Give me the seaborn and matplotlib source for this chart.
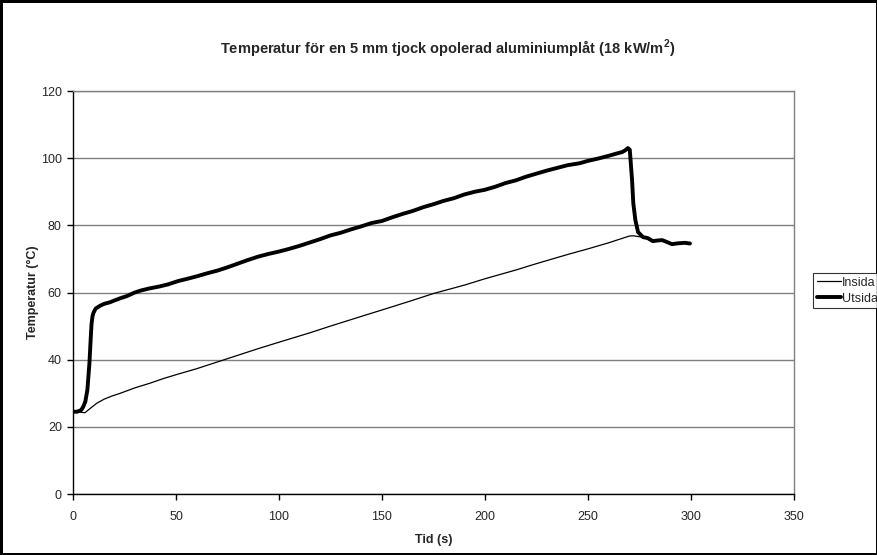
import matplotlib
matplotlib.use("Agg")
import matplotlib.pyplot as plt
import seaborn as sns
import pandas as pd

# ---- data ----
ut_t = [0, 2, 4, 5, 6, 7, 8, 8.5, 9, 9.5, 10, 11, 13, 15, 18, 20, 23, 26, 30, 33, 37, 42, 46, 51,
        55, 60, 65, 70, 75, 80, 85, 90, 95, 100, 105, 110, 115, 120, 125, 130, 135, 140, 145,
        150, 155, 160, 165, 170, 175, 180, 185, 190, 195, 200, 205, 210, 215, 220, 225, 230,
        235, 240, 246, 250, 255, 260, 264, 266.5, 268, 269.4, 270.3, 271.4, 272, 273, 274.3,
        276.7, 279, 281.5, 284, 286, 288.5, 290.8, 293, 294.7, 297, 299.5]
ut_v = [24.5, 24.5, 25.0, 26.0, 27.5, 31.0, 39.0, 45.0, 50.5, 53.0, 54.0, 55.2, 56.0, 56.6, 57.1, 57.6,
        58.3, 58.9, 60.0, 60.6, 61.2, 61.8, 62.4, 63.4,
        64.0, 64.8, 65.7, 66.5, 67.5, 68.6, 69.7, 70.7, 71.5, 72.2, 73.0, 73.9, 74.9, 75.9,
        77.0, 77.8, 78.8, 79.7, 80.7, 81.3, 82.4, 83.4, 84.3, 85.4, 86.3, 87.3, 88.1, 89.2,
        90.0, 90.6, 91.5, 92.6, 93.4, 94.5, 95.4, 96.3, 97.1, 97.9, 98.5, 99.2, 99.9, 100.7,
        101.4, 101.8, 102.3, 103.0, 102.5, 93.5, 86.6, 81.6, 78.0,
        76.5, 76.2, 75.3, 75.5, 75.6, 75.0, 74.4, 74.6, 74.7, 74.8, 74.6]

in_t = [0, 3, 5.8, 8, 11.5, 15, 19, 23, 30, 37.4, 44, 51, 60, 75, 90, 100, 115, 125, 140, 150,
        165, 175, 190, 200, 215, 225, 240, 250, 260, 265, 268, 270, 272, 274, 276.7]
in_v = [24.5, 24.4, 24.2, 25.3, 27.0, 28.2, 29.2, 30.0, 31.6, 33.0, 34.4, 35.7, 37.3, 40.3,
        43.3, 45.2, 48.0, 50.0, 52.9, 54.8, 57.7, 59.7, 62.2, 64.1, 66.7, 68.6, 71.3, 73.0,
        74.8, 75.8, 76.4, 76.8, 76.9, 76.7, 76.5]

title = r"Temperatur för en 5 mm tjock opolerad aluminiumplåt (18 kW/m$^{\mathbf{2}}$)"
xlabel = "Tid (s)"
ylabel = "Temperatur (°C)"
series_names = ["Insida", "Utsida"]

# ---- style ----
sns.set_style("white")
plt.rcParams["font.family"] = ["Liberation Sans", "DejaVu Sans"]
plt.rcParams["mathtext.fontset"] = "custom"
plt.rcParams["mathtext.rm"] = "Liberation Sans"
plt.rcParams["mathtext.bf"] = "Liberation Sans:bold"

fig = plt.figure(figsize=(8.78, 5.55), dpi=100, edgecolor="black", linewidth=2.5)
ax = fig.add_axes([0.0831, 0.1099, 0.8212, 0.7261])

df_in = pd.DataFrame({"t": in_t, "v": in_v})
df_ut = pd.DataFrame({"t": ut_t, "v": ut_v})
sns.lineplot(data=df_in, x="t", y="v", ax=ax, color="black", linewidth=0.9,
             label=series_names[0], sort=False, estimator=None)
sns.lineplot(data=df_ut, x="t", y="v", ax=ax, color="black", linewidth=2.8,
             label=series_names[1], sort=False, estimator=None)

ax.set_xlim(0, 350)
ax.set_ylim(0, 120)
ax.set_xticks(range(0, 351, 50))
ax.set_yticks(range(0, 121, 20))
ax.yaxis.grid(True, color="#808080", linewidth=1.0)
ax.xaxis.grid(False)
ax.set_axisbelow(True)
for s in ["top", "right"]:
    ax.spines[s].set_color("#808080")
    ax.spines[s].set_linewidth(1.0)
for s in ["left", "bottom"]:
    ax.spines[s].set_color("black")
    ax.spines[s].set_linewidth(1.0)
ax.tick_params(axis="both", direction="out", length=4, width=1, color="black",
               labelsize=9, bottom=True, left=True)
ax.tick_params(axis="x", pad=8)
ax.tick_params(axis="y", pad=4)

ax.set_xlabel(xlabel, fontsize=9, fontweight="bold", labelpad=8)
ax.set_ylabel(ylabel, fontsize=9, fontweight="bold", labelpad=1)
fig.text(0.51, 0.912, title, ha="center", va="center", fontsize=10.5, fontweight="bold")

leg = ax.legend(loc="upper left", bbox_to_anchor=(0.926, 0.508),
                bbox_transform=fig.transFigure, frameon=True, fancybox=False,
                fontsize=9, handlelength=1.9, handletextpad=0.1, borderpad=0.3,
                labelspacing=0.3, borderaxespad=0)
leg.get_frame().set_edgecolor("black")
leg.get_frame().set_linewidth(0.8)

fig.savefig("out.png", dpi=100, edgecolor=fig.get_edgecolor())
